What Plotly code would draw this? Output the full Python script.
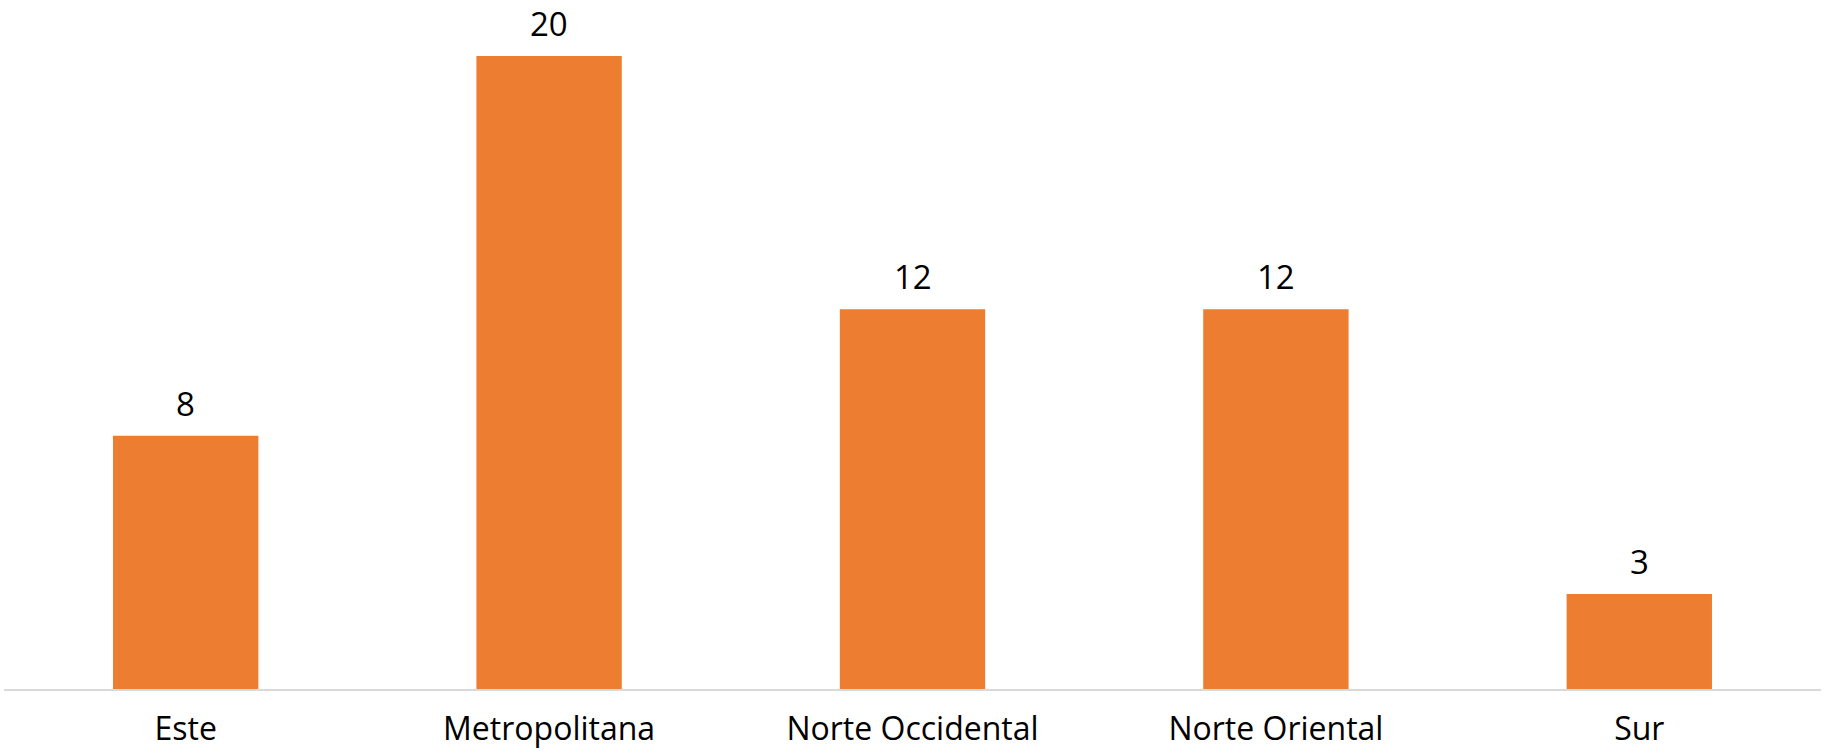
import plotly.graph_objects as go

categories = ["Este", "Metropolitana", "Norte Occidental", "Norte Oriental", "Sur"]
values = [8, 20, 12, 12, 3]

BAR_COLOR = "#ED7D31"
FONT = "Open Sans, Liberation Sans, sans-serif"

fig = go.Figure()
fig.add_trace(go.Bar(
    x=categories,
    y=values,
    marker=dict(color=BAR_COLOR, line=dict(width=0)),
    hoverinfo="x+y",
    cliponaxis=False,
))

for c, v in zip(categories, values):
    fig.add_annotation(
        x=c, y=v, text=str(v), showarrow=False,
        yanchor="bottom", yshift=8,
        font=dict(family=FONT, size=33, color="#000000"),
    )

fig.update_layout(
    width=1829, height=752,
    margin=dict(l=4, r=8, t=56, b=63, pad=0, autoexpand=False),
    paper_bgcolor="white", plot_bgcolor="white",
    bargap=0.6,
    showlegend=False,
    xaxis=dict(
        range=[-0.5, 4.5],
        showgrid=False, zeroline=False, automargin=False,
        showline=True, linecolor="#D9D9D9", linewidth=2,
        ticks="", ticklabelstandoff=11,
        tickfont=dict(family=FONT, size=32, color="#000000"),
    ),
    yaxis=dict(
        range=[0, 20], showgrid=False, zeroline=False, automargin=False,
        showline=False, showticklabels=False, ticks="",
    ),
)

fig.write_html(
    "out.html",
    config={"displayModeBar": False},
    post_script="document.body.style.margin='0';document.body.style.overflow='hidden';",
)
